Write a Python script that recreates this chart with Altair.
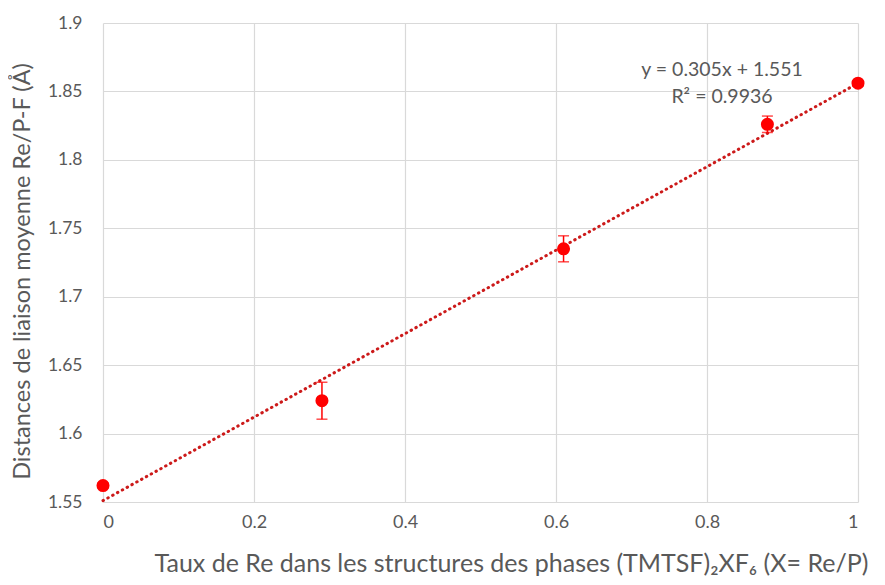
import altair as alt
import pandas as pd

x_vals = [0.0, 0.29, 0.61, 0.88, 1.0]
y_vals = [1.562, 1.624, 1.735, 1.826, 1.856]
y_err = [0.002, 0.0135, 0.0095, 0.006, 0.002]

trend_x = [0.0, 1.0]
trend_y = [1.551, 1.856]

eq_line1 = "y = 0.305x + 1.551"
eq_line2 = "R² = 0.9936"

x_ticks = [0, 0.2, 0.4, 0.6, 0.8, 1]
y_ticks = [1.55, 1.6, 1.65, 1.7, 1.75, 1.8, 1.85, 1.9]

FONT = "Lato"
GREY = "#595959"
RED = "#ff0000"

df = pd.DataFrame({"x": x_vals, "y": y_vals, "err": y_err})
df["lo"] = df["y"] - df["err"]
df["hi"] = df["y"] + df["err"]
trend = pd.DataFrame({"x": trend_x, "y": trend_y})

xscale = alt.Scale(domain=[0, 1], nice=False, zero=False)
yscale = alt.Scale(domain=[1.55, 1.9], nice=False, zero=False)

xaxis = alt.Axis(values=x_ticks, format="~g", grid=True, domain=False, ticks=False,
                 labelPadding=11, labelFontSize=18, labelColor=GREY, labelFont=FONT,
                 title="Taux de Re dans les structures des phases (TMTSF)₂XF₆ (X= Re/P)",
                 titleFont=FONT, titleFontSize=25, titleFontWeight="normal", titleColor=GREY,
                 titleX=408, titleY=61, titleAnchor="middle", titleBaseline="middle")
yaxis = alt.Axis(values=y_ticks, format="~g", grid=True, domain=False, ticks=False,
                 labelPadding=21, labelFontSize=17.5, labelColor=GREY, labelFont=FONT,
                 title="Distances de liaison moyenne Re/P-F (Å)",
                 titleFont=FONT, titleFontSize=23.5, titleFontWeight="normal", titleColor=GREY,
                 titleX=-81, titleY=248, titleAngle=-90, titleAlign="center", titleBaseline="middle")

base = alt.Chart(df)

points = base.mark_point(filled=True, size=170, color=RED, opacity=1).encode(
    x=alt.X("x:Q", scale=xscale, axis=xaxis),
    y=alt.Y("y:Q", scale=yscale, axis=yaxis),
)
bars = base.mark_rule(color=RED, strokeWidth=1.5).encode(
    x="x:Q", y="lo:Q", y2="hi:Q")
cap_lo = base.mark_tick(color=RED, orient="horizontal", size=11, thickness=1.5).encode(
    x="x:Q", y="lo:Q")
cap_hi = base.mark_tick(color=RED, orient="horizontal", size=11, thickness=1.5).encode(
    x="x:Q", y="hi:Q")

line = alt.Chart(trend).mark_line(color="#cc1a1a", strokeWidth=3, strokeDash=[0.5, 5],
                                  strokeCap="round").encode(x="x:Q", y="y:Q")

text1 = alt.Chart(pd.DataFrame({"t": [eq_line1]})).mark_text(
    font=FONT, fontSize=19.5, fontWeight="normal", color=GREY,
    align="center", baseline="middle").encode(
    text="t:N", x=alt.value(619), y=alt.value(47))
text2 = alt.Chart(pd.DataFrame({"t": [eq_line2]})).mark_text(
    font=FONT, fontSize=19.5, fontWeight="normal", color=GREY,
    align="center", baseline="middle").encode(
    text="t:N", x=alt.value(619), y=alt.value(74))

chart = alt.layer(line, bars, cap_lo, cap_hi, points, text1, text2).properties(
    width=755, height=479,
    autosize=alt.AutoSizeParams(type="none"),
    padding={"left": 95, "top": 15, "right": 19, "bottom": 75},
).configure_view(stroke=None).configure_axis(gridColor="#d9d9d9", gridWidth=1.2)

chart.save("out.html", embed_options={"renderer": "svg", "actions": False})
